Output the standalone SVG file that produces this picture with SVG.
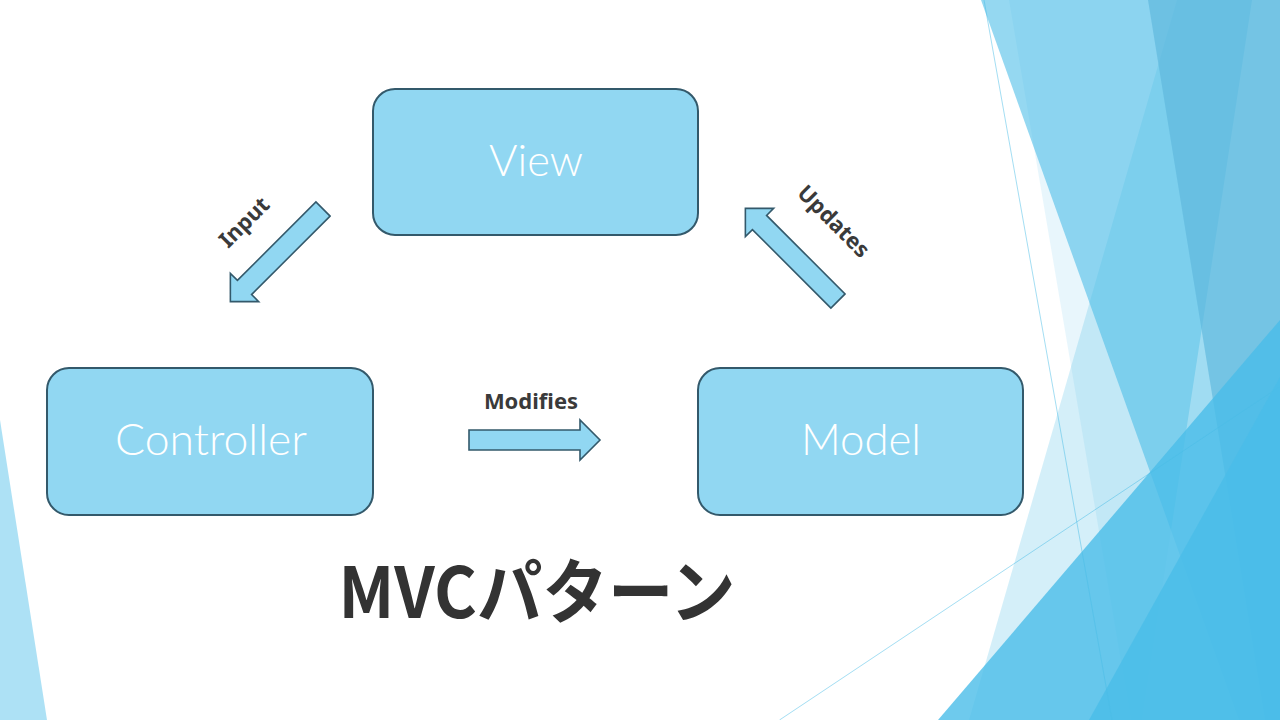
<svg xmlns="http://www.w3.org/2000/svg" width="1280" height="720" viewBox="0 0 1280 720">
<style>
.bx{fill:#91D7F2;stroke:#33596B;stroke-width:2}
.bt{font-family:Lato,"Noto Sans",sans-serif;font-weight:300;font-size:44px;fill:#FFFFFF;text-anchor:middle}
.ar{fill:#91D7F2;stroke:#33596B;stroke-width:1.6;stroke-linejoin:miter}
.lb{font-family:"Noto Sans","Liberation Sans",sans-serif;font-weight:700;font-size:22px;fill:#3A3A3A;text-anchor:middle}
.ti{font-family:"Noto Sans CJK JP","Noto Sans",sans-serif;font-weight:700;font-size:70px;fill:#333333;text-anchor:middle}
.bg{fill:#4ABDE8}
.ln{stroke:#4ABDE8;stroke-opacity:0.5;stroke-width:1;fill:none}
</style>
<defs>
<path id="arr" d="M0,-10 H111 V-20 L131,0 L111,20 V10 H0 Z"/>
</defs>
<rect x="0" y="0" width="1280" height="720" fill="#FFFFFF"/>
<g id="background">
<polygon class="bg" fill-opacity="0.45" points="0,420 47,720 0,720"/>
<polygon class="bg" fill-opacity="0.13" points="1009,0 1280,0 1280,720 1131,720"/>
<polygon class="bg" fill-opacity="0.24" points="1177,0 1280,0 1280,720 969,720"/>
<polygon class="bg" fill-opacity="0.59" points="981,0 1280,0 1280,720 1239,720"/>
<polygon fill="#FFFFFF" fill-opacity="0.28" points="1252,0 1280,0 1280,720 1142,720"/>
<polygon fill="#5EB7DD" fill-opacity="0.67" points="1148,0 1280,0 1280,720 1265,720"/>
<polygon class="bg" fill-opacity="0.8" points="938,720 1280,320 1280,720"/>
<polygon class="bg" fill-opacity="0.8" points="1089,720 1280,377 1280,720"/>
<line class="ln" x1="984" y1="0" x2="1112" y2="720"/>
<line class="ln" x1="779.5" y1="720" x2="1280" y2="386.5"/>
</g>
<g id="connectors">
<g id="input-arrow">
<use href="#arr" class="ar" transform="translate(323,209) rotate(135)"/>
<text class="lb" transform="translate(244,222) rotate(-45)" y="8">Input</text>
</g>
<g id="updates-arrow">
<use href="#arr" class="ar" transform="translate(838,301) rotate(-135)"/>
<text class="lb" transform="translate(834,221) rotate(45)" y="8">Updates</text>
</g>
<g id="modifies-arrow">
<use href="#arr" class="ar" transform="translate(469,440)"/>
<text class="lb" x="531" y="409">Modifies</text>
</g>
</g>
<g id="view">
<rect class="bx" x="373" y="89" width="325" height="146" rx="22"/>
<text class="bt" x="536" y="176" textLength="94" lengthAdjust="spacingAndGlyphs">View</text>
</g>
<g id="controller">
<rect class="bx" x="47" y="368" width="326" height="147" rx="22"/>
<text class="bt" x="211" y="455" textLength="192" lengthAdjust="spacingAndGlyphs">Controller</text>
</g>
<g id="model">
<rect class="bx" x="698" y="368" width="325" height="147" rx="22"/>
<text class="bt" x="861" y="455" textLength="120" lengthAdjust="spacingAndGlyphs">Model</text>
</g>
<g id="title">
<text class="ti" x="537" y="618" textLength="397" lengthAdjust="spacingAndGlyphs">MVCパターン</text>
</g>
</svg>
